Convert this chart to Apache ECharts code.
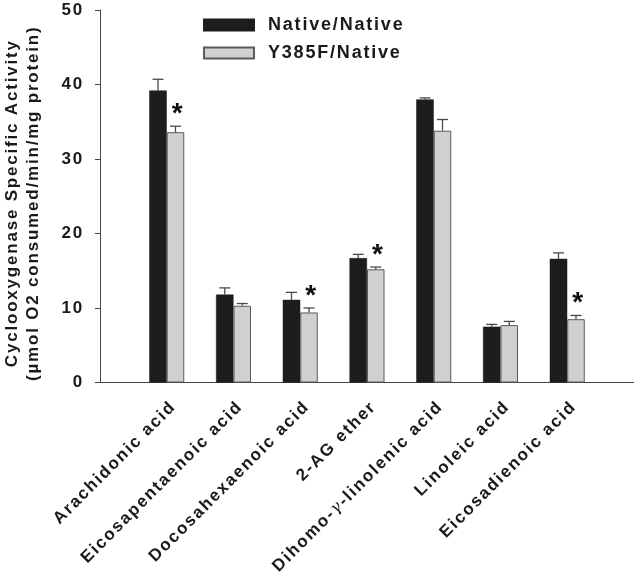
<!DOCTYPE html>
<html>
<head>
<meta charset="utf-8">
<script src="https://cdn.jsdelivr.net/npm/echarts@6/dist/echarts.min.js"></script>
<style>
html,body{margin:0;padding:0;background:#fff;}
#chart{width:634px;height:586px;}
</style>
</head>
<body>
<div id="chart"></div>
<script>
// ---- data ----
const categories = ['Arachidonic acid', 'Eicosapentaenoic acid', 'Docosahexaenoic acid', '2-AG ether', 'Dihomo-γ-linolenic acid', 'Linoleic acid', 'Eicosadienoic acid'];
const nativeValues = [39.2, 11.8, 11.1, 16.7, 38.0, 7.5, 16.6];
const nativeErrors = [1.5, 0.9, 1.0, 0.5, 0.2, 0.3, 0.8];
const mutantValues = [33.6, 10.3, 9.4, 15.2, 33.8, 7.7, 8.5];
const mutantErrors = [0.8, 0.3, 0.6, 0.3, 1.5, 0.5, 0.5];
const significant = [true, false, true, true, false, false, true];
const seriesNames = ['Native/Native', 'Y385F/Native'];
const yTicks = { min: 0, max: 50, interval: 10 };

// ---- wide letter spacing, as in the reference typesetting ----
(function () {
  const P = CanvasRenderingContext2D.prototype;
  const LS = '1.8px';
  ['fillText', 'strokeText', 'measureText'].forEach(function (fn) {
    const orig = P[fn];
    P[fn] = function () { try { this.letterSpacing = LS; } catch (e) {} return orig.apply(this, arguments); };
  });
})();

// ---- build ----
const FONT = "'Liberation Sans', Arial, Helvetica, sans-serif";
const padCats = [''].concat(categories).concat(['']);
const pad = arr => [null].concat(arr).concat([null]);
const BAR_W = 17.5;

function errData(vals, errs, sig) {
  return vals.map((v, i) => [i + 1, v, errs[i], sig ? (sig[i] ? 1 : 0) : 0]);
}
function errRenderer(offset, color) {
  return function (params, api) {
    const idx = api.value(0), v = api.value(1), e = api.value(2), s = api.value(3);
    const base = api.coord([idx, v]);
    const top = api.coord([idx, v + e]);
    const x = base[0] + offset;
    const cap = 5.5;
    const children = [
      { type: 'line', shape: { x1: x, y1: base[1], x2: x, y2: top[1] }, style: { stroke: color, lineWidth: 1.3 } },
      { type: 'line', shape: { x1: x - cap, y1: top[1], x2: x + cap, y2: top[1] }, style: { stroke: color, lineWidth: 1.3 } }
    ];
    if (s) {
      children.push({ type: 'text', x: x + 2.5, y: top[1] + 3, style: { text: '*', font: 'bold 28px ' + FONT, fill: '#111', align: 'center', verticalAlign: 'bottom' } });
    }
    return { type: 'group', children: children };
  };
}

const chart = echarts.init(document.getElementById('chart'), null, { renderer: 'canvas' });
chart.setOption({
  animation: false,
  backgroundColor: '#ffffff',
  textStyle: { fontFamily: FONT },
  grid: { left: 100, right: 0, top: 10, bottom: 203.5, containLabel: false, outerBoundsMode: 'none' },
  legend: {
    data: seriesNames,
    orient: 'vertical',
    left: 203, top: 15,
    padding: 0,
    itemWidth: 50, itemHeight: 11,
    itemGap: 8,
    icon: 'rect',
    textStyle: { fontFamily: FONT, fontWeight: 'bold', fontSize: 18, color: '#1a1a1a', lineHeight: 20, padding: [0, 0, 0, 9] }
  },
  xAxis: {
    type: 'category',
    data: padCats,
    boundaryGap: false,
    axisLine: { lineStyle: { color: '#444', width: 1 } },
    axisTick: { show: false },
    axisLabel: {
      interval: 0, rotate: 45, margin: 15,
      verticalAlign: 'top',
      fontFamily: FONT, fontWeight: 'bold', fontSize: 17, color: '#1a1a1a',
      formatter: function (val) { return val.replace('γ', '{g|γ}'); },
      rich: { g: { fontFamily: "'DejaVu Serif', serif", fontStyle: 'italic', fontWeight: 'normal', fontSize: 16, color: '#1a1a1a' } }
    },
    splitLine: { show: false }
  },
  yAxis: {
    type: 'value',
    min: yTicks.min, max: yTicks.max, interval: yTicks.interval,
    name: 'Cyclooxygenase Specific Activity\n(µmol O2 consumed/min/mg protein)',
    nameLocation: 'middle', nameGap: 56,
    nameTextStyle: { fontFamily: FONT, fontWeight: 'bold', fontSize: 17, color: '#1a1a1a', lineHeight: 21, padding: [0, 14, 0, 0] },
    axisLine: { show: true, lineStyle: { color: '#444', width: 1 } },
    axisTick: { show: true, length: 5, inside: false, lineStyle: { color: '#444' } },
    axisLabel: { margin: 16, fontFamily: FONT, fontWeight: 'bold', fontSize: 17, color: '#1a1a1a' },
    splitLine: { show: false }
  },
  series: [
    {
      name: seriesNames[0], type: 'bar', data: pad(nativeValues),
      barWidth: BAR_W, barGap: '0%',
      itemStyle: { color: '#1f1c1d', borderColor: '#1f1c1d', borderWidth: 0.5 }
    },
    {
      name: seriesNames[1], type: 'bar', data: pad(mutantValues),
      barWidth: BAR_W, barGap: '0%',
      itemStyle: { color: '#d0d0d0', borderColor: '#5a5a5a', borderWidth: 1 }
    },
    {
      type: 'custom', name: 'errNative', data: errData(nativeValues, nativeErrors, null),
      renderItem: errRenderer(-BAR_W / 2, '#4a4a4a'), z: 3, silent: true
    },
    {
      type: 'custom', name: 'errMutant', data: errData(mutantValues, mutantErrors, significant),
      renderItem: errRenderer(BAR_W / 2, '#4a4a4a'), z: 3, silent: true
    }
  ]
});
</script>
</body>
</html>
